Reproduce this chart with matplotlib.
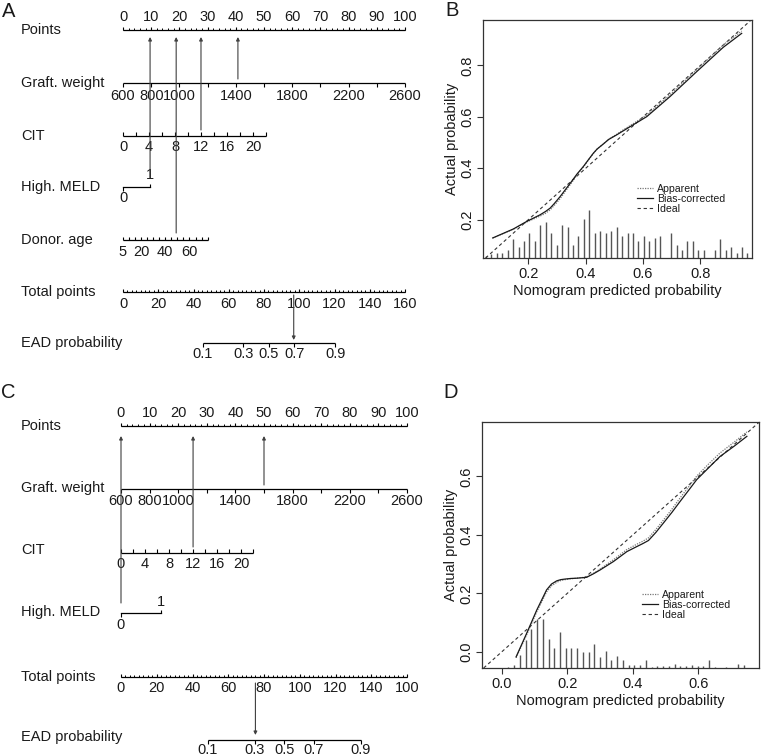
import numpy as np
import matplotlib
matplotlib.use('Agg')
import matplotlib.pyplot as plt
from matplotlib.transforms import blended_transform_factory

plt.rcParams['font.family'] = ['Liberation Sans', 'DejaVu Sans']

# ======================= DATA =======================
# --- nomogram scales ---
points_major = [0, 10, 20, 30, 40, 50, 60, 70, 80, 90, 100]
graft_ticks = [600, 800, 1000, 1200, 1400, 1600, 1800, 2000, 2200, 2400, 2600]
graft_labels = [600, 800, 1000, 1400, 1800, 2200, 2600]
graft_range = [600, 2600]
graft_pts_A = [0, 100]
graft_pts_C = [0, 100]
cit_ticks = [0, 2, 4, 6, 8, 10, 12, 14, 16, 18, 20, 22]
cit_labels = [0, 4, 8, 12, 16, 20]
cit_range = [0, 22]
cit_pts_A = [0, 50.7]
cit_pts_C = [0, 46.2]
meld_levels = [0, 1]
meld_pts_A = [0, 9.6]
meld_pts_C = [0, 14.0]
age_ticks = [5, 10, 15, 20, 25, 30, 35, 40, 45, 50, 55, 60, 65, 70, 75]
age_labels = [5, 20, 40, 60]
age_range = [5, 75]
age_pts_A = [0, 30.0]
total_max = 160
total_labels = [0, 20, 40, 60, 80, 100, 120, 140, 160]
total_text_A = ['0', '20', '40', '60', '80', '100', '120', '140', '160']
total_text_C = ['0', '20', '40', '60', '80', '100', '120', '140', '100']
prob_labels = [0.1, 0.3, 0.5, 0.7, 0.9]
lp_A = [82.8, 17.1]   # total points at p=0.5, points per logit unit
lp_C = [91.4, 19.5]
patient_A = {'graft': 1415, 'cit': 12, 'meld': 1, 'age': 49}
patient_C = {'graft': 1600, 'cit': 12, 'meld': 0}

# --- calibration B ---
B_bc_x = [0.076, 0.148, 0.194, 0.241, 0.260, 0.276, 0.290, 0.311, 0.330, 0.351,
          0.370, 0.392, 0.410, 0.427, 0.440, 0.462, 0.480, 0.508, 0.530, 0.555,
          0.613, 0.694, 0.787, 0.880, 0.944]
B_bc_y = [0.129, 0.164, 0.193, 0.219, 0.232, 0.245, 0.262, 0.290, 0.318, 0.349,
          0.378, 0.407, 0.434, 0.459, 0.475, 0.495, 0.512, 0.530, 0.545, 0.562,
          0.601, 0.679, 0.776, 0.871, 0.925]
B_app_x = [0.076, 0.148, 0.194, 0.241, 0.260, 0.276, 0.290, 0.311, 0.330, 0.351,
           0.370, 0.392, 0.410, 0.427, 0.440, 0.462, 0.480, 0.508, 0.530, 0.555,
           0.613, 0.694, 0.787, 0.880, 0.944]
B_app_y = [0.129, 0.163, 0.191, 0.214, 0.225, 0.238, 0.255, 0.282, 0.312, 0.344,
           0.375, 0.405, 0.433, 0.458, 0.475, 0.495, 0.513, 0.532, 0.549, 0.566,
           0.607, 0.686, 0.784, 0.880, 0.934]
B_spk_x = [0.052, 0.071, 0.090, 0.109, 0.128, 0.147, 0.166, 0.185, 0.204, 0.223,
           0.242, 0.261, 0.280, 0.299, 0.318, 0.337, 0.356, 0.375, 0.394, 0.413,
           0.432, 0.451, 0.470, 0.489, 0.508, 0.527, 0.546, 0.565, 0.584, 0.603,
           0.622, 0.641, 0.660, 0.698, 0.717, 0.736, 0.755, 0.774, 0.793, 0.812,
           0.850, 0.869, 0.888, 0.907, 0.926, 0.945, 0.964]
B_spk_top = [0.058, 0.067, 0.071, 0.071, 0.084, 0.126, 0.093, 0.116, 0.148, 0.116,
             0.181, 0.191, 0.148, 0.103, 0.181, 0.170, 0.103, 0.137, 0.204, 0.236,
             0.148, 0.157, 0.148, 0.157, 0.170, 0.137, 0.148, 0.148, 0.116, 0.137,
             0.116, 0.127, 0.137, 0.148, 0.103, 0.084, 0.116, 0.116, 0.084, 0.084,
             0.084, 0.126, 0.084, 0.094, 0.071, 0.094, 0.071]
B_xlim = [0.042, 0.980]
B_ylim = [0.051, 0.977]
B_ticks = [0.2, 0.4, 0.6, 0.8]

# --- calibration D ---
D_bc_x = [0.044, 0.076, 0.107, 0.137, 0.152, 0.168, 0.180, 0.193, 0.210, 0.229,
          0.259, 0.280, 0.300, 0.341, 0.382, 0.412, 0.430, 0.448, 0.470, 0.493,
          0.520, 0.544, 0.570, 0.595, 0.630, 0.666, 0.710, 0.748]
D_bc_y = [-0.017, 0.063, 0.143, 0.212, 0.232, 0.243, 0.247, 0.249, 0.251, 0.252,
          0.255, 0.267, 0.280, 0.309, 0.343, 0.360, 0.370, 0.381, 0.408, 0.440,
          0.478, 0.514, 0.552, 0.589, 0.628, 0.668, 0.704, 0.737]
D_app_x = [0.044, 0.076, 0.107, 0.137, 0.152, 0.168, 0.180, 0.193, 0.210, 0.229,
           0.259, 0.280, 0.300, 0.341, 0.382, 0.412, 0.430, 0.448, 0.470, 0.493,
           0.520, 0.544, 0.570, 0.595, 0.630, 0.666, 0.710, 0.748]
D_app_y = [-0.020, 0.058, 0.137, 0.205, 0.226, 0.238, 0.244, 0.247, 0.250, 0.252,
           0.256, 0.269, 0.283, 0.315, 0.350, 0.368, 0.378, 0.390, 0.418, 0.450,
           0.489, 0.526, 0.564, 0.601, 0.641, 0.680, 0.718, 0.752]
D_spk_x = [0.020, 0.038, 0.055, 0.073, 0.090, 0.108, 0.125, 0.143, 0.160, 0.178,
           0.195, 0.213, 0.230, 0.248, 0.265, 0.283, 0.300, 0.318, 0.335, 0.353,
           0.370, 0.388, 0.405, 0.423, 0.440, 0.458, 0.475, 0.493, 0.510, 0.528,
           0.545, 0.563, 0.580, 0.598, 0.615, 0.633, 0.650, 0.685, 0.720, 0.738]
D_spk_top = [-0.051, -0.046, -0.011, 0.040, 0.078, 0.111, 0.111, 0.045, 0.014, 0.069,
             0.014, 0.012, 0.014, 0.000, 0.000, 0.026, -0.017, 0.004, -0.028, -0.014,
             -0.029, -0.046, -0.046, -0.046, -0.029, -0.051, -0.049, -0.049, -0.049, -0.040,
             -0.049, -0.049, -0.046, -0.049, -0.049, -0.029, -0.051, -0.051, -0.040, -0.046]
D_xlim = [-0.060, 0.785]
D_ylim = [-0.055, 0.786]
D_ticks = [0.0, 0.2, 0.4, 0.6]

# ======================= FIGURE =======================
W, H = 763, 756
fig = plt.figure(figsize=(W / 100, H / 100), dpi=100)
TXT = '#1a1a1a'
FS = 10.5


def px_axes(x0, y0, x1, y1):
    return fig.add_axes([x0 / W, 1 - y1 / H, (x1 - x0) / W, (y1 - y0) / H])


def nomo_axes(box, p0, p100):
    x0, y0, x1, y1 = box
    ax = px_axes(x0, y0, x1, y1)
    k = (p100 - p0) / 100.0
    ax.set_xlim((x0 - p0) / k, (x1 - p0) / k)
    ax.set_ylim(y1, y0)
    ax.axis('off')
    return ax


def to_pts(v, rng, pts):
    return float(np.interp(v, rng, pts))


def tp_to_x(tp):
    return tp * 100.0 / total_max


def prob_to_x(p, lp):
    return tp_to_x(lp[0] + lp[1] * np.log(p / (1 - p)))


def hscale(ax, y, xs, tdir, tlen, lab_x, lab_txt, loff, minor=None, mlen=None):
    ax.plot([min(xs), max(xs)], [y, y], color='k', lw=0.9, solid_capstyle='butt')
    ax.vlines(xs, y, y + tdir * tlen, color='k', lw=0.8)
    if minor is not None:
        ax.vlines(minor, y, y + tdir * mlen, color='k', lw=0.7)
    for lx, lt in zip(lab_x, lab_txt):
        ax.text(lx, y + loff, lt, ha='center', va='center', fontsize=FS, color=TXT)


def row_label(ax, y, txt):
    tr = blended_transform_factory(ax.transAxes, ax.transData)
    ax.text(21 / 420, y, txt, ha='left', va='center', fontsize=FS, color=TXT, transform=tr)


def arrow(ax, x, y_from, y_to):
    ax.annotate('', xy=(x, y_to), xytext=(x, y_from),
                arrowprops=dict(arrowstyle='-|>', color='#404040', lw=0.8,
                                mutation_scale=5, shrinkA=0, shrinkB=0))


# ---------------- Panel A ----------------
axA = nomo_axes((0, 0, 420, 370), 123, 405)
rA = {'points': 30, 'graft': 83, 'cit': 136, 'meld': 187, 'age': 240, 'total': 292, 'ead': 343}
row_label(axA, rA['points'], 'Points')
row_label(axA, rA['graft'], 'Graft. weight')
row_label(axA, rA['cit'], 'CIT')
row_label(axA, rA['meld'], 'High. MELD')
row_label(axA, rA['age'], 'Donor. age')
row_label(axA, rA['total'], 'Total points')
row_label(axA, rA['ead'], 'EAD probability')

hscale(axA, rA['points'], points_major, -1, 3.5, points_major, [str(v) for v in points_major], -13,
       minor=np.arange(0, 101, 2), mlen=2)
hscale(axA, rA['graft'], [to_pts(v, graft_range, graft_pts_A) for v in graft_ticks], 1, 4,
       [to_pts(v, graft_range, graft_pts_A) for v in graft_labels], [str(v) for v in graft_labels], 13)
hscale(axA, rA['cit'], [to_pts(v, cit_range, cit_pts_A) for v in cit_ticks], -1, 4,
       [to_pts(v, cit_range, cit_pts_A) for v in cit_labels], [str(v) for v in cit_labels], 11)
# High MELD
mx = [to_pts(v, meld_levels, meld_pts_A) for v in meld_levels]
axA.plot(mx, [rA['meld']] * 2, color='k', lw=0.9)
axA.vlines([mx[0]], rA['meld'], rA['meld'] + 3.5, color='k', lw=0.8)
axA.vlines([mx[1]], rA['meld'], rA['meld'] - 3.5, color='k', lw=0.8)
axA.text(mx[0], rA['meld'] + 11, '0', ha='center', va='center', fontsize=FS, color=TXT)
axA.text(mx[1], rA['meld'] - 12, '1', ha='center', va='center', fontsize=FS, color=TXT)
hscale(axA, rA['age'], [to_pts(v, age_range, age_pts_A) for v in age_ticks], -1, 3,
       [to_pts(v, age_range, age_pts_A) for v in age_labels], [str(v) for v in age_labels], 12)
hscale(axA, rA['total'], [tp_to_x(v) for v in total_labels], -1, 3,
       [tp_to_x(v) for v in total_labels], total_text_A, 12,
       minor=[tp_to_x(v) for v in np.arange(0, 160.1, 2.5)], mlen=2)
hscale(axA, rA['ead'], [prob_to_x(p, lp_A) for p in prob_labels], 1, 3.5,
       [prob_to_x(p, lp_A) for p in prob_labels], [str(p) for p in prob_labels], 11)

pg = to_pts(patient_A['graft'], graft_range, graft_pts_A)
pc = to_pts(patient_A['cit'], cit_range, cit_pts_A)
pm = meld_pts_A[patient_A['meld']]
pa = to_pts(patient_A['age'], age_range, age_pts_A)
top_A = rA['points'] + 7
arrow(axA, pg, rA['graft'] - 4, top_A)
arrow(axA, pc, rA['cit'] - 6, top_A)
arrow(axA, pm, rA['meld'] - 9, top_A)
arrow(axA, pa, rA['age'] - 7, top_A)
tpA = pg + pc + pm + pa
arrow(axA, tp_to_x(tpA), rA['total'] + 3, rA['ead'] - 3)

# ---------------- Panel C ----------------
axC = nomo_axes((0, 370, 420, 756), 121, 407)
rC = {'points': 426, 'graft': 489, 'cit': 553, 'meld': 613, 'total': 677, 'ead': 740}
row_label(axC, rC['points'], 'Points')
row_label(axC, rC['graft'] - 1, 'Graft. weight')
row_label(axC, rC['cit'] - 3, 'CIT')
row_label(axC, rC['meld'] - 1, 'High. MELD')
row_label(axC, rC['total'], 'Total points')
row_label(axC, rC['ead'] - 3, 'EAD probability')

hscale(axC, rC['points'], points_major, -1, 3.5, points_major, [str(v) for v in points_major], -13,
       minor=np.arange(0, 101, 2), mlen=2)
hscale(axC, rC['graft'], [to_pts(v, graft_range, graft_pts_C) for v in graft_ticks], 1, 4,
       [to_pts(v, graft_range, graft_pts_C) for v in graft_labels], [str(v) for v in graft_labels], 12)
hscale(axC, rC['cit'], [to_pts(v, cit_range, cit_pts_C) for v in cit_ticks], -1, 4,
       [to_pts(v, cit_range, cit_pts_C) for v in cit_labels], [str(v) for v in cit_labels], 11)
mx = [to_pts(v, meld_levels, meld_pts_C) for v in meld_levels]
axC.plot(mx, [rC['meld']] * 2, color='k', lw=0.9)
axC.vlines([mx[0]], rC['meld'], rC['meld'] + 3.5, color='k', lw=0.8)
axC.vlines([mx[1]], rC['meld'], rC['meld'] - 3.5, color='k', lw=0.8)
axC.text(mx[0], rC['meld'] + 12, '0', ha='center', va='center', fontsize=FS, color=TXT)
axC.text(mx[1], rC['meld'] - 11, '1', ha='center', va='center', fontsize=FS, color=TXT)
hscale(axC, rC['total'], [tp_to_x(v) for v in total_labels], -1, 3,
       [tp_to_x(v) for v in total_labels], total_text_C, 11,
       minor=[tp_to_x(v) for v in np.arange(0, 160.1, 2.5)], mlen=2)
hscale(axC, rC['ead'], [prob_to_x(p, lp_C) for p in prob_labels], 1, 3.5,
       [prob_to_x(p, lp_C) for p in prob_labels], [str(p) for p in prob_labels], 10)

pg = to_pts(patient_C['graft'], graft_range, graft_pts_C)
pc = to_pts(patient_C['cit'], cit_range, cit_pts_C)
pm = meld_pts_C[patient_C['meld']]
top_C = rC['points'] + 10
arrow(axC, pg, rC['graft'] - 4, top_C)
arrow(axC, pc, rC['cit'] - 6, top_C)
arrow(axC, pm, rC['meld'] - 10, top_C)
tpC = pg + pc + pm
arrow(axC, tp_to_x(tpC), rC['total'] + 6, rC['ead'] - 5)


# ---------------- Calibration panels ----------------
def calib(box, xlim, ylim, ticks, tick_txt, app_x, app_y, bc_x, bc_y, sx, stop, leg_xy):
    ax = px_axes(*box)
    ax.set_xlim(xlim)
    ax.set_ylim(ylim)
    ax.vlines(sx, ylim[0], stop, color='#555555', lw=1.0)
    l_ideal = ax.axline((0, 0), (1, 1), color='#333333', lw=0.8, ls=(0, (3, 2.5)))
    l_app, = ax.plot(app_x, app_y, color='#777777', lw=0.9, ls=(0, (1, 1)))
    l_bc, = ax.plot(bc_x, bc_y, color='#1a1a1a', lw=0.9)
    ax.set_xticks(ticks)
    ax.set_xticklabels(tick_txt)
    ax.set_yticks(ticks)
    ax.set_yticklabels(tick_txt, rotation=90, va='center')
    ax.tick_params(direction='out', length=4.5, width=0.8, labelsize=FS, pad=2,
                   colors='#333333', labelcolor=TXT)
    for s in ax.spines.values():
        s.set_linewidth(0.9)
        s.set_color('#333333')
    ax.set_xlabel('Nomogram predicted probability', fontsize=FS, color=TXT, labelpad=2)
    ax.set_ylabel('Actual probability', fontsize=FS, color=TXT, labelpad=1)
    leg = ax.legend([l_app, l_bc, l_ideal], ['Apparent', 'Bias-corrected', 'Ideal'],
                    loc='upper left', bbox_to_anchor=leg_xy, frameon=False,
                    fontsize=7.6, handlelength=1.55, handletextpad=0.35,
                    labelspacing=0.0, borderpad=0, borderaxespad=0)
    for t in leg.get_texts():
        t.set_color(TXT)
    return ax


calib((483, 20, 752, 258), B_xlim, B_ylim, B_ticks, ['0.2', '0.4', '0.6', '0.8'],
      B_app_x, B_app_y, B_bc_x, B_bc_y, B_spk_x, B_spk_top, (0.5725, 0.313))
calib((482, 422, 759, 668), D_xlim, D_ylim, D_ticks, ['0.0', '0.2', '0.4', '0.6'],
      D_app_x, D_app_y, D_bc_x, D_bc_y, D_spk_x, D_spk_top, (0.578, 0.319))

# ---------------- Panel letters ----------------
for letter, (x, y) in {'A': (8.5, 11.5), 'B': (452, 10), 'C': (8.5, 392), 'D': (451, 392.5)}.items():
    fig.text(x / W, 1 - y / H, letter, ha='center', va='center', fontsize=14.5, color=TXT)

fig.savefig('out.png', dpi=100)
